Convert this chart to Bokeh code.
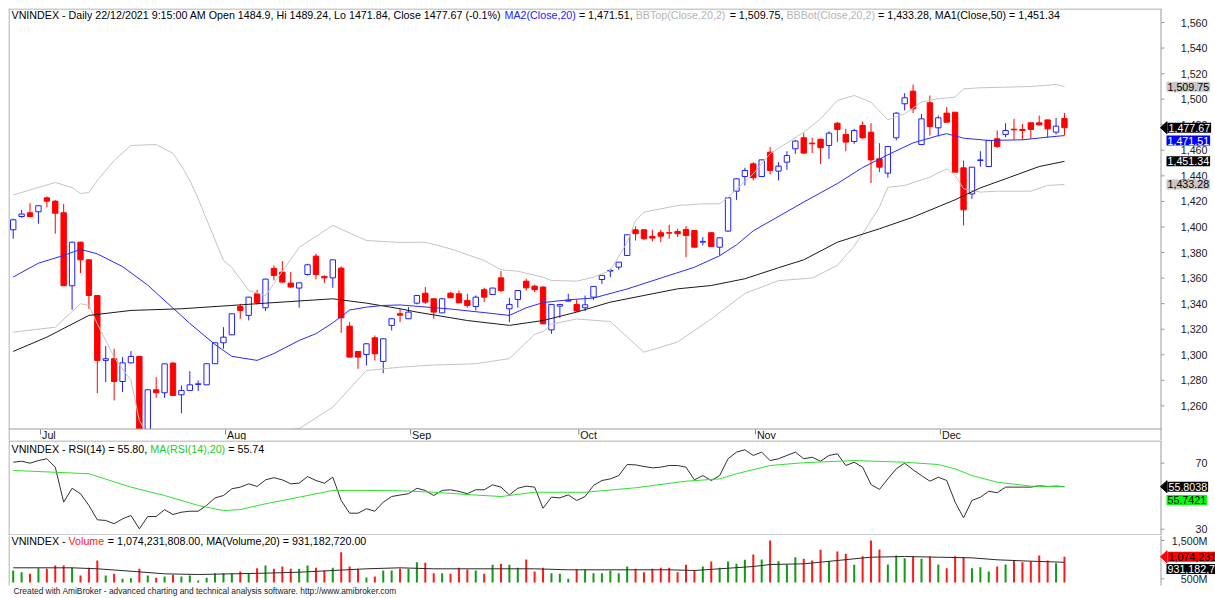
from bokeh.plotting import figure
from bokeh.models import Label, PolyAnnotation, Range1d, ColumnDataSource
from bokeh.layouts import column
from bokeh.embed import file_html
from bokeh.resources import INLINE

# ---------------- data ----------------
opens = [1397.8,1408.2,1411.1,1411.9,1422.8,1420.2,1411.1,1354.0,1388.1,1374.3,
1346.4,1295.6,1296.9,1279.1,1293.7,1298.7,1238.0,1272.6,1270.3,1293.5,
1268.7,1272.1,1276.8,1276.5,1293.0,1309.4,1315.6,1337.8,1330.8,1347.7,
1336.8,1367.6,1364.7,1356.1,1352.2,1362.8,1377.2,1361.3,1360.2,1367.8,
1322.4,1302.6,1300.2,1313.3,1294.8,1323.0,1332.1,1328.2,1340.4,1348.2,
1343.8,1332.8,1348.2,1347.7,1342.5,1337.8,1350.9,1347.2,1360.2,1336.0,
1343.3,1357.6,1353.7,1353.0,1319.5,1338.1,1342.0,1339.4,1336.8,1345.1,
1358.9,1365.5,1368.6,1377.7,1397.8,1397.8,1392.6,1395.5,1395.5,1396.5,
1398.1,1397.3,1388.1,1395.5,1384.2,1396.8,1428.0,1439.5,1449.4,1439.5,
1458.5,1443.7,1450.7,1461.2,1469.8,1465.6,1468.7,1463.8,1481.2,1472.4,
1466.9,1479.4,1474.2,1453.3,1442.1,1469.8,1496.4,1506.3,1464.5,1497.2,
1477.6,1489.1,1489.8,1446.3,1425.9,1452.0,1447.3,1469.0,1472.4,1476.5,
1476.3,1481.5,1481.5,1483.8,1474.2,1484.9]
highs = [1406.5,1413.4,1418.7,1416.8,1423.9,1421.0,1418.1,1388.5,1388.5,1374.5,
1346.6,1306.8,1304.7,1298.2,1302.9,1299.0,1273.0,1282.5,1293.2,1294.2,
1276.0,1287.2,1279.9,1293.2,1309.6,1321.6,1332.3,1339.9,1345.3,1350.9,
1359.5,1369.9,1373.3,1364.7,1356.5,1371.2,1379.0,1362.1,1374.5,1369.1,
1325.5,1302.8,1309.0,1315.1,1312.7,1328.4,1336.0,1337.3,1346.6,1353.0,
1344.0,1344.6,1349.0,1350.3,1347.7,1346.4,1352.4,1352.4,1365.5,1344.6,
1350.5,1359.5,1355.0,1353.5,1339.6,1339.6,1347.7,1343.0,1346.4,1353.6,
1362.2,1367.3,1372.6,1394.1,1400.4,1398.0,1397.8,1397.8,1401.7,1398.6,
1400.7,1397.5,1392.1,1395.7,1391.6,1423.0,1438.0,1446.3,1450.7,1452.7,
1462.5,1450.7,1459.3,1468.2,1473.4,1469.8,1469.0,1475.0,1482.0,1476.8,
1476.8,1482.5,1481.2,1465.6,1463.2,1489.8,1504.7,1511.5,1488.5,1502.9,
1487.2,1493.8,1490.0,1452.0,1447.0,1459.3,1467.9,1475.5,1481.2,1484.6,
1480.7,1481.6,1487.2,1484.0,1485.4,1489.24]
lows = [1390.8,1407.2,1408.0,1402.5,1415.5,1394.7,1353.8,1335.2,1363.9,1336.0,
1270.0,1278.6,1264.3,1270.8,1293.2,1236.0,1235.0,1266.3,1266.3,1268.0,
1254.3,1271.8,1271.6,1276.2,1292.8,1304.7,1315.4,1328.2,1326.9,1339.4,
1334.2,1358.2,1356.5,1352.4,1336.8,1362.1,1359.0,1356.1,1352.4,1317.2,
1298.0,1289.0,1291.6,1295.6,1285.6,1319.0,1325.5,1328.0,1339.4,1339.9,
1328.2,1332.6,1344.4,1340.5,1336.8,1334.7,1341.2,1347.0,1349.0,1325.5,
1336.8,1350.3,1349.0,1324.0,1316.4,1328.9,1341.8,1333.4,1334.2,1343.0,
1355.5,1360.8,1366.5,1377.5,1389.4,1390.0,1388.7,1388.1,1390.8,1392.1,
1376.4,1384.0,1385.5,1384.6,1377.7,1396.0,1421.2,1432.5,1436.4,1439.3,
1441.1,1436.4,1444.7,1457.2,1457.5,1457.8,1449.4,1453.3,1466.4,1459.3,
1465.1,1469.0,1434.3,1442.9,1438.5,1467.7,1491.2,1489.1,1464.0,1471.6,
1470.8,1482.0,1442.9,1401.2,1422.0,1447.3,1447.1,1462.0,1470.3,1468.2,
1468.2,1469.0,1479.4,1469.8,1472.4,1471.84]
closes = [1405.6,1410.1,1408.2,1416.6,1420.2,1410.8,1354.0,1388.1,1374.3,1346.4,
1295.6,1296.9,1279.1,1293.7,1298.7,1240.0,1272.6,1270.3,1292.9,1268.2,
1272.1,1276.5,1277.3,1293.0,1309.4,1313.8,1332.1,1334.7,1345.1,1340.7,
1359.2,1362.1,1356.9,1353.0,1356.3,1370.4,1362.8,1360.2,1374.3,1328.9,
1298.2,1298.2,1308.6,1300.8,1312.5,1328.2,1331.0,1333.4,1346.4,1341.2,
1333.4,1343.8,1344.6,1340.7,1338.6,1345.1,1345.1,1352.2,1350.3,1339.4,
1350.3,1352.4,1350.9,1324.2,1339.4,1339.4,1342.5,1334.2,1339.1,1353.5,
1362.1,1366.0,1372.5,1393.9,1394.7,1390.8,1391.3,1392.8,1395.2,1394.7,
1393.4,1384.2,1388.7,1384.8,1391.5,1422.8,1437.7,1444.2,1438.5,1452.5,
1444.2,1447.6,1455.9,1467.2,1457.8,1465.1,1462.0,1473.4,1476.3,1466.4,
1475.5,1469.8,1452.5,1446.8,1463.0,1489.1,1501.1,1492.5,1484.6,1478.6,
1485.4,1482.0,1442.9,1413.4,1446.8,1452.5,1467.7,1463.0,1475.5,1476.0,
1475.5,1476.3,1479.9,1476.8,1478.9,1477.67]
volume_m = [717,672,630,777,761,847,847,787,586,787,
978,586,630,500,517,761,586,526,560,604,
560,586,456,526,647,647,647,690,647,777,
847,761,821,761,761,847,787,717,787,1195,
821,761,534,560,717,717,770,761,933,918,
647,647,630,787,743,717,630,865,891,865,
787,1004,690,787,647,630,500,743,743,647,
647,717,647,821,761,672,761,787,787,672,
865,717,821,952,787,952,891,996,1134,1004,
1500,960,873,1064,1022,978,1257,960,1213,1153,
865,1090,1500,1265,873,1108,1038,1082,1022,1082,
873,777,1090,1064,777,804,690,821,873,978,
933,960,1108,978,908,1074.2]
rsi14 = [70.6,71.2,70.0,71.6,72.7,67.6,46.4,54.8,51.5,44.4,
35.7,35.3,33.3,36.3,38.3,30.2,37.7,37.7,41.8,38.9,
40.3,40.9,40.9,44.4,49.0,50.4,54.5,55.5,57.5,55.9,
59.9,61.2,59.9,57.5,57.9,61.9,59.5,57.9,61.5,47.4,
39.7,39.7,42.4,40.9,46.4,49.8,50.7,51.5,54.8,53.5,
50.4,53.5,53.9,52.9,51.5,53.9,53.9,56.9,55.5,50.8,
54.8,56.1,55.5,42.7,49.4,49.0,50.8,47.4,49.8,56.5,
59.5,60.5,62.5,69.2,69.0,68.0,67.2,67.6,68.6,68.6,
67.6,59.9,62.5,59.5,62.5,72.7,76.7,78.1,74.7,76.7,
71.6,72.7,74.7,76.7,72.7,73.6,71.2,74.7,75.7,68.6,
70.6,67.6,57.1,54.1,60.5,66.6,70.0,66.0,62.5,59.1,
61.5,59.5,46.4,36.9,47.4,49.4,53.0,52.1,55.5,55.5,
55.5,55.5,56.3,55.9,56.1,55.80]

ma20_idx = [0,3,6,8,10,13,16,19,21,24,26,29,31,34,36,38,40,42,44,46,52,56,59,61,63,66,69,73,77,81,84,86,88,90,94,98,101,104,107,110,111,113,116,120,123,125]
ma20_val = [1360.8,1371.7,1377.7,1382.5,1379.0,1369.0,1354.5,1336.5,1324.5,1308.0,1298.8,1295.6,1301.0,1311.2,1316.5,1325.0,1335.0,1337.3,1338.6,1339.0,1335.8,1333.0,1330.8,1336.8,1340.8,1343.0,1344.4,1351.5,1360.0,1368.5,1377.5,1386.0,1397.0,1404.5,1419.5,1434.0,1446.5,1456.5,1465.8,1471.5,1473.0,1469.5,1467.7,1468.2,1470.3,1471.51]
ma50_idx = [0,4,9,14,20,26,30,38,42,46,48,54,59,63,67,71,75,79,83,87,91,94,98,103,107,112,115,118,122,125]
ma50_val = [1302.6,1313.8,1330.8,1334.7,1336.0,1338.6,1340.4,1343.8,1340.4,1336.0,1333.4,1326.8,1323.0,1326.8,1333.4,1341.2,1346.4,1351.6,1354.2,1359.5,1368.1,1374.3,1388.1,1398.6,1407.7,1421.3,1430.6,1437.7,1447.3,1451.34]
bbtop_idx = [0,2,5,7,8,9,10,12,14,17,19,20,21,22,25,26,28,30,34,38,42,46,49,52,56,58,60,63,64,67,69,71,73,74,75,79,82,84,85,88,90,94,96,98,100,102,104,106,108,110,112,113,115,121,124,125]
bbtop_val = [1425.0,1429.0,1434.8,1430.9,1426.2,1427.0,1436.4,1452.0,1463.8,1464.5,1457.5,1448.0,1436.4,1422.0,1373.8,1368.3,1350.3,1346.4,1384.0,1401.2,1389.4,1387.9,1388.1,1382.9,1373.8,1366.5,1365.4,1360.7,1358.1,1357.6,1360.7,1365.9,1388.0,1405.0,1411.6,1416.8,1418.1,1418.1,1423.3,1441.6,1457.3,1474.2,1484.6,1499.0,1502.9,1497.6,1483.9,1488.6,1497.6,1500.3,1501.6,1508.1,1508.9,1509.9,1511.5,1509.75]
bbbot_idx = [0,5,8,9,10,12,14,15,17,20,24,28,31,34,38,42,46,50,55,59,62,63,64,67,71,75,79,83,87,91,95,98,100,101,103,104,106,109,111,112,113,115,117,121,123,125]
bbbot_val = [1317.7,1321.6,1339.9,1338.6,1324.2,1298.1,1279.9,1248.6,1226.0,1215.0,1222.0,1235.0,1240.0,1242.2,1259.0,1287.7,1290.3,1292.0,1293.0,1297.0,1316.0,1318.0,1324.0,1328.0,1326.0,1302.0,1310.0,1328.0,1348.0,1358.0,1360.0,1370.0,1385.0,1394.7,1415.5,1431.1,1432.5,1439.0,1445.5,1440.3,1429.9,1427.3,1428.0,1428.0,1432.5,1433.28]
rsima_idx = [0,5,9,14,18,22,25,27,30,34,38,42,46,50,54,58,62,68,74,80,84,86,90,94,100,106,110,112,114,117,121,125]
rsima_val = [65.6,64.5,63.6,55.5,50.4,44.4,41.3,41.9,45.4,49.4,53.5,53.5,53.3,52.4,51.0,49.8,52.4,52.4,55.1,59.1,60.5,63.6,68.6,70.3,71.6,70.6,69.2,66.6,62.5,58.5,56.1,55.74]
volma_idx = [0,7,10,14,18,22,26,30,34,38,42,46,50,58,62,66,78,81,84,88,90,94,98,102,106,110,114,117,121,125]
volma_val = [787,787,761,698,630,612,630,647,672,717,761,787,761,761,761,735,735,717,761,821,873,891,978,1064,1082,1064,1047,996,960,931.2]

month_names = ["Jul", "Aug", "Sep", "Oct", "Nov", "Dec"]
month_start_idx = [3, 25, 47, 67, 88, 110]
price_ticks = list(range(1260, 1561, 20))
price_tick_labels = [f"{t:,}" for t in price_ticks]
rsi_ticks = [30, 70]
rsi_tick_labels = ["30", "70"]
vol_ticks = [500, 1500]
vol_tick_labels = ["500M", "1,500M"]

# ---------------- layout helpers (page pixels -> data) ----------------
FONT = "Liberation Sans"
FS = "10.7px"
FRAME_W = 1207          # frames span x = 8 .. 1215 (axis area drawn by hand)
PPU = 8.41
X0 = -0.56
X1 = X0 + FRAME_W / PPU
RIGHT_EDGE = 1160.5
BORDER = "#9a9a9a"

def xpx(px):
    return X0 + (px - 8) / PPU

def main_y(py):
    return 1560 - (py - 22) / 1.278

def rsi_y(py):
    return 70 - (py - 462.7) / 1.65

def vol_y(py):
    return 500 + (578.3 - py) / 0.0383

AW = {' ':278,'%':889,'(':333,')':333,',':278,'-':333,'.':278,'/':278,':':278,'=':584,
      'A':667,'B':667,'C':722,'D':722,'E':667,'H':722,'I':278,'L':556,'M':833,'N':722,'O':778,
      'R':722,'S':667,'T':611,'V':667,'X':667,'a':556,'b':556,'c':500,'d':556,'e':556,'i':222,
      'l':222,'m':833,'n':556,'o':556,'p':556,'s':500,'t':278,'u':556,'y':500}

def tw(s, size=10.7):
    return sum(AW.get(ch, 556) for ch in s) * size / 1000.0

def add_parts(fig, parts, px_start, y, size=10.7):
    x = px_start
    for text, color in parts:
        lead = len(text) - len(text.lstrip(' '))
        body = text.strip(' ')
        if body:
            fig.add_layout(Label(x=xpx(x + tw(' ' * lead, size)), y=y, text=body,
                                 text_color=color, text_font=FONT, text_font_size=f"{size}px",
                                 text_baseline="middle", text_align="left"))
        x += tw(text, size)

def tag(fig, y, text, bg, fg, arrow, units_per_px):
    left = 1166 if arrow else 1165
    fig.add_layout(Label(x=xpx(left), y=y, text=text, text_color=fg, background_fill_color=bg,
                         background_fill_alpha=1.0, text_font=FONT, text_font_size=FS,
                         text_baseline="middle", text_align="left", padding=1, x_offset=1))
    if arrow:
        d = 6 * units_per_px
        fig.add_layout(PolyAnnotation(xs=[xpx(1160), xpx(1166.5), xpx(1166.5)], ys=[y, y + d, y - d],
                                      fill_color=bg, fill_alpha=1.0, line_color=bg, line_alpha=1.0))

def axis_labels(fig, ticks, labels, yfun_inv_units):
    fig.segment(x0=[xpx(RIGHT_EDGE)] * len(ticks), y0=ticks, x1=[xpx(1164)] * len(ticks), y1=ticks,
                line_color=BORDER, line_width=1)
    for t, s in zip(ticks, labels):
        fig.add_layout(Label(x=xpx(1207), y=t, text=s, text_font=FONT, text_font_size=FS,
                             text_color="#222222", text_baseline="middle", text_align="right"))

def hline(fig, yv, x_from=8, x_to=RIGHT_EDGE):
    fig.line([xpx(x_from), xpx(x_to)], [yv, yv], line_color=BORDER, line_width=1)

def vline(fig, xp, y_a, y_b):
    fig.line([xpx(xp), xpx(xp)], [y_a, y_b], line_color=BORDER, line_width=1)

def make_fig(frame_h, y0, y1, top):
    f = figure(frame_width=FRAME_W, frame_height=frame_h, x_range=Range1d(X0, X1),
               y_range=Range1d(y0, y1), x_axis_location=None, y_axis_location=None,
               toolbar_location=None, output_backend="svg", title=None,
               min_border_left=8, min_border_right=0, min_border_top=top, min_border_bottom=0,
               background_fill_color="white", border_fill_color="white", outline_line_color=None)
    f.grid.visible = False
    return f

# ---------------- main price pane (frame y 8..440 incl. date strip) ----------------
p = make_fig(432, main_y(440), main_y(8), 8)

n = len(closes)
idx = list(range(n))
up = [c >= o for o, c in zip(opens, closes)]
def sub(mask):
    ii = [i for i in idx if mask[i]]
    return ColumnDataSource(dict(x=ii, hi=[highs[i] for i in ii], lo=[lows[i] for i in ii],
                                 top=[max(opens[i], closes[i]) for i in ii],
                                 bot=[min(opens[i], closes[i]) for i in ii]))
src_up = sub(up)
src_dn = sub([not u for u in up])
BLUE = "#2020ff"
RED = "#ff0000"
p.segment(x0="x", y0="lo", x1="x", y1="hi", source=src_up, line_color=BLUE, line_width=1)
p.vbar(x="x", width=0.64, top="top", bottom="bot", source=src_up, fill_color="white", line_color=BLUE, line_width=1)
p.segment(x0="x", y0="lo", x1="x", y1="hi", source=src_dn, line_color=RED, line_width=1)
p.vbar(x="x", width=0.64, top="top", bottom="bot", source=src_dn, fill_color=RED, line_color=RED, line_width=1)

p.line(bbtop_idx, bbtop_val, line_color="#c4c4c4", line_width=1)
p.line(bbbot_idx, bbbot_val, line_color="#c4c4c4", line_width=1)
p.line(ma50_idx, ma50_val, line_color="#1a1a1a", line_width=1)
p.line(ma20_idx, ma20_val, line_color="#2a2aff", line_width=1)

# date strip (cover price overflow, then borders, month ticks and names)
p.quad(left=X0, right=X1, bottom=main_y(440), top=main_y(428.5), fill_color="white", line_color=None)
hline(p, main_y(8.5))
hline(p, main_y(428.5))
vline(p, 8.5, main_y(8), main_y(440))
vline(p, RIGHT_EDGE, main_y(8), main_y(440))
mx = [m + 0.25 for m in month_start_idx]
p.segment(x0=mx, y0=[main_y(429)] * len(mx), x1=mx, y1=[main_y(434)] * len(mx), line_color="#808080", line_width=1)
for m, name in zip(mx, month_names):
    p.add_layout(Label(x=m, y=main_y(434.5), text=name, x_offset=1.5, text_font=FONT, text_font_size=FS,
                       text_color="#111111", text_baseline="middle", text_align="left"))

axis_labels(p, price_ticks, price_tick_labels, None)

add_parts(p, [("VNINDEX - Daily 22/12/2021 9:15:00 AM Open 1484.9, Hi 1489.24, Lo 1471.84, Close 1477.67 (-0.1%) ", "#000000"),
              ("MA2(Close,20)", "#2020ff"), (" = 1,471.51, ", "#000000"),
              ("BBTop(Close,20,2)", "#b4b4b4"), (" = 1,509.75, ", "#000000"),
              ("BBBot(Close,20,2)", "#b4b4b4"), (" = 1,433.28, MA1(Close,50) = 1,451.34", "#000000")],
          11, main_y(14.5))

mu = 1 / 1.278
tag(p, bbtop_val[-1], "1,509.75", "#c8c8c8", "#000000", False, mu)
tag(p, bbbot_val[-1], "1,433.28", "#c8c8c8", "#000000", False, mu)
tag(p, ma50_val[-1], "1,451.34", "#000000", "#ffffff", False, mu)
tag(p, main_y(140), "1,471.51", "#0000ff", "#ffffff", False, mu)
tag(p, closes[-1], "1,477.67", "#000000", "#ffffff", True, mu)

# ---------------- RSI pane (frame y 440..535) ----------------
r = make_fig(95, rsi_y(535), rsi_y(440), 0)
r.line(idx, rsi14, line_color="#303030", line_width=1)
r.line(rsima_idx, rsima_val, line_color="#30e030", line_width=1)
hline(r, rsi_y(440.5))
hline(r, rsi_y(534.5))
vline(r, 8.5, rsi_y(440), rsi_y(535))
vline(r, RIGHT_EDGE, rsi_y(440), rsi_y(535))
axis_labels(r, rsi_ticks, rsi_tick_labels, None)
add_parts(r, [("VNINDEX - RSI(14) = 55.80, ", "#000000"), ("MA(RSI(14),20)", "#22cc22"), (" = 55.74", "#000000")],
          11, rsi_y(448))
ru = 1 / 1.65
tag(r, rsi14[-1], "55.8038", "#000000", "#ffffff", True, ru)
tag(r, rsi_y(499.5), "55.7421", "#00ff00", "#000000", False, ru)

# ---------------- Volume pane (frame y 535..598) ----------------
v = make_fig(63, vol_y(598), vol_y(535), 0)
vb = vol_y(582)
vsrc_up = ColumnDataSource(dict(x=[i for i in idx if up[i]], v=[volume_m[i] for i in idx if up[i]]))
vsrc_dn = ColumnDataSource(dict(x=[i for i in idx if not up[i]], v=[volume_m[i] for i in idx if not up[i]]))
v.vbar(x="x", width=0.24, top="v", bottom=vb, source=vsrc_up, fill_color="#159a15", line_color=None)
v.vbar(x="x", width=0.24, top="v", bottom=vb, source=vsrc_dn, fill_color="#ff1a1a", line_color=None)
v.line(volma_idx, volma_val, line_color="#2a2a2a", line_width=1)
vline(v, 8.5, vol_y(535), vol_y(585))
vline(v, RIGHT_EDGE, vol_y(535), vol_y(585))
axis_labels(v, vol_ticks, vol_tick_labels, None)
add_parts(v, [("VNINDEX - ", "#000000"), ("Volume", "#ff2020"),
              (" = 1,074,231,808.00, MA(Volume,20) = 931,182,720.00", "#000000")], 11, vol_y(540.5))
vu = 1 / 0.0383
tag(v, volume_m[-1], "1,074,231", "#ff0000", "#000000", True, vu)
tag(v, vol_y(568.5), "931,182,7", "#000000", "#ffffff", False, vu)
v.add_layout(Label(x=xpx(13), y=vol_y(590.5), text="Created with AmiBroker - advanced charting and technical analysis software. http://www.amibroker.com",
                   text_font=FONT, text_font_size="8.4px", text_color="#222222", text_baseline="middle", text_align="left"))

layout = column(p, r, v, spacing=0)
open("out.html", "w").write(file_html(layout, INLINE))
